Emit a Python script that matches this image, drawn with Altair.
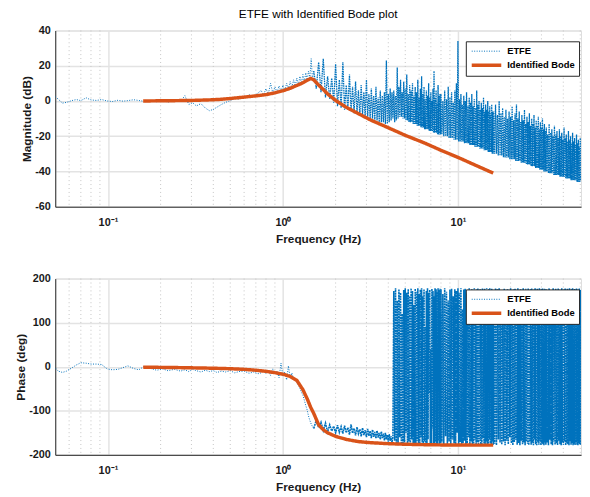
import altair as alt
import pandas as pd

# ---------------- data ----------------
SERIES = ["ETFE", "Identified Bode"]
COLORS = ["#0072BD", "#D95319"]

# ETFE, low-frequency part (smooth)
fA = [0.050, 0.052, 0.055, 0.058, 0.062, 0.066, 0.070, 0.075, 0.080, 0.086,
      0.092, 0.099, 0.106, 0.114, 0.122, 0.130, 0.140, 0.150, 0.160, 0.175,
      0.190, 0.205, 0.220, 0.240, 0.260, 0.275, 0.290, 0.305, 0.320, 0.340,
      0.360, 0.380, 0.400, 0.420, 0.445, 0.470, 0.500, 0.530, 0.560, 0.600,
      0.640, 0.680, 0.720]
magA = [2.5, 1.0, -1.2, -0.8, 0.2, 0.8, 0.2, 1.8, 0.6, 0.3,
        0.8, 0.0, -0.3, 0.4, -0.1, 0.2, 0.7, 0.3, -0.2, 0.2,
        -0.4, 0.3, -0.6, 0.2, -0.3, 3.0, -2.0, -1.0, -2.8, -1.5,
        -4.0, -5.5, -4.8, -3.5, -2.0, -0.8, 0.2, 1.5, 1.0, 2.2,
        3.5, 2.8, 4.5]
phA = [-3, -10, -13, -10, -3, 4, 9, 8, 6, 6,
       5, -5, -7, -6, -2, 2, -4, -7, 0, -4,
       -8, -5, -9, -6, -10, -7, -11, -6, -9, -12,
       -8, -11, -9, -13, -10, -12, -9, -14, -11, -10,
       -15, -12, -16]

# ETFE around the resonance
fB = [0.750, 0.775, 0.800, 0.825, 0.850, 0.875, 0.900, 0.925, 0.950, 0.975,
      1.000, 1.025, 1.050, 1.075, 1.100, 1.125, 1.150, 1.175, 1.200, 1.225,
      1.250, 1.275, 1.300, 1.325, 1.350, 1.375, 1.400, 1.425, 1.450, 1.475]
magB = [6, 3.5, 7, 4, 10, 4.5, 8, 5, 8.5, 5.5,
        9, 6, 10, 7, 11, 7.5, 12, 8.5, 13, 9,
        14, 10, 15, 11, 16, 12, 17, 13, 24, 12]
phB = [-14, -8, -16, -9, -20, -5, -18, -10, -25, 8,
       -22, -12, -30, 2, -26, -14, -28, -30, -36, -42,
       -48, -58, -64, -76, -88, -98, -112, -122, -130, -136]

# ETFE between the resonance and 4.3 Hz
fC = [1.50, 1.55, 1.60, 1.65, 1.70, 1.75, 1.80, 1.85, 1.90, 1.95,
      2.00, 2.05, 2.10, 2.15, 2.20, 2.25, 2.30, 2.35, 2.40, 2.45,
      2.50, 2.55, 2.60, 2.65, 2.70, 2.75, 2.80, 2.85, 2.90, 2.95,
      3.00, 3.05, 3.10, 3.15, 3.20, 3.25, 3.30, 3.35, 3.40, 3.45,
      3.50, 3.55, 3.60, 3.65, 3.70, 3.75, 3.80, 3.85, 3.90, 3.95,
      4.00, 4.05, 4.10, 4.15, 4.20, 4.25]
magC = [17, 7, 22, 5, 24, 2, 14, 1, 13, -1,
        21, -3, 12, -4, 22, -5, 9, -5, 15, -6,
        8, -7, 11, -7, 6, -8, 9, -8, 5, -9,
        12, -9, 4, -10, 7, -10, 3, -11, 8, -11,
        2, -12, 6, -12, 3, -12, 5, -13, 23, -13,
        4, -12, 7, -11, 5, -10]
phC = [-140, -122, -138, -126, -145, -128, -148, -132, -146, -135,
       -150, -133, -149, -136, -152, -134, -150, -138, -154, -131,
       -151, -140, -156, -137, -152, -142, -158, -139, -155, -144,
       -160, -141, -157, -146, -162, -143, -159, -148, -163, -145,
       -161, -150, -165, -147, -162, -152, -167, -150, -165, -155,
       -170, -153, -168, -158, -172, -160]

# ETFE, noisy high-frequency part
fD1 = [4.30, 4.35, 4.40, 4.45, 4.50, 4.55, 4.60, 4.65, 4.70, 4.75,
       4.80, 4.85, 4.90, 4.95, 5.00, 5.05, 5.10, 5.15, 5.20, 5.25,
       5.30, 5.35, 5.40, 5.45, 5.50, 5.55, 5.60, 5.65, 5.70, 5.75,
       5.80, 5.85, 5.90, 5.95, 6.00, 6.05, 6.10, 6.15, 6.20, 6.25,
       6.30, 6.35, 6.40, 6.45, 6.50, 6.55, 6.60, 6.65, 6.70, 6.75,
       6.80, 6.85, 6.90, 6.95, 7.00, 7.05, 7.10, 7.15, 7.20, 7.25,
       7.30, 7.35, 7.40, 7.45, 7.50, 7.55, 7.60, 7.65, 7.70, 7.75,
       7.80, 7.85, 7.90, 7.95]
magD1 = [6, -12, 3, -11, 19, -10, 8, -9, 12, -9,
         5, -10, 11, -10, 7, -11, 15, -11, 4, -12,
         9, -12, 6, -12, 10, -13, 3, -13, 8, -13,
         5, -14, 12, -14, 2, -14, 7, -15, 14, -15,
         4, -15, 8, -16, 1, -16, 6, -16, 3, -16,
         10, -17, 2, -17, 5, -17, 0, -17, 7, -18,
         17, -18, 2, -18, 6, -18, -1, -19, 9, -19,
         3, -19, 4, -19]
phD1 = [172, -168, 178, -175, 150, -178, 176, -160, 168, -176,
        120, -178, 174, -172, 178, -150, 168, -177, 176, -170,
        160, -178, 178, -165, 172, -176, 140, -174, 177, -178,
        170, -168, 178, -175, 165, -178, 175, -160, 178, -172,
        160, -177, 176, -170, 90, -176, 172, -178, 178, -165,
        168, -60, 175, -176, 40, -178, 177, -140, 172, -175,
        160, -178, 178, -170, 176, -176, 170, -178, 178, -168,
        174, -177, 177, -174]

fD2 = [8.0, 8.1, 8.2, 8.3, 8.4, 8.5, 8.6, 8.7, 8.8, 8.9,
       9.0, 9.1, 9.2, 9.3, 9.4, 9.5, 9.6, 9.7, 9.8, 9.9,
       10.0, 10.1, 10.2, 10.3, 10.4, 10.5, 10.6, 10.7, 10.8, 10.9,
       11.0, 11.1, 11.2, 11.3, 11.4, 11.5, 11.6, 11.7, 11.8, 11.9,
       12.0, 12.1, 12.2, 12.3, 12.4, 12.5, 12.6, 12.7, 12.8, 12.9,
       13.0, 13.1, 13.2, 13.3, 13.4, 13.5, 13.6, 13.7, 13.8, 13.9,
       14.0, 14.1, 14.2, 14.3, 14.4, 14.5, 14.6, 14.7, 14.8, 14.9,
       15.0, 15.1, 15.2, 15.3, 15.4, 15.5, 15.6, 15.7, 15.8, 15.9]
magD2 = [4, -19, 0, -20, 6, -20, 1, -20, 8, -21,
         2, -21, 5, -21, -1, -22, 6, -22, 10, -22,
         34, -23, 1, -23, 4, -23, -2, -23, 3, -24,
         0, -24, 5, -24, -3, -24, 2, -25, -1, -25,
         4, -25, -3, -25, 1, -26, -4, -26, 6, -26,
         -2, -26, 0, -27, -5, -27, -1, -27, -4, -27,
         2, -28, -6, -28, -2, -28, -5, -28, 0, -29,
         -6, -29, -3, -29, -7, -29, -2, -30, -6, -30]
phD2 = [176, -172, 165, -176, 178, -158, 170, -178, 150, -170,
        175, -177, 177, -165, 160, -174, 176, -178, 172, -150,
        178, -178, 168, -171, 178, -176, 130, -173, 175, -168,
        177, -178, 166, -174, 172, -160, 178, -176, 170, -170,
        176, -178, 162, -175, 178, -166, 171, -177, 175, -172,
        178, -178, 160, -169, 176, -176, 170, -178, 178, -162,
        168, -175, 177, -178, 172, -170, 178, -176, 150, -178,
        176, -165, 178, -174, 169, -178, 177, -170, 174, -177]

fD3 = [16.0, 16.2, 16.4, 16.6, 16.8, 17.0, 17.2, 17.4, 17.6, 17.8,
       18.0, 18.2, 18.4, 18.6, 18.8, 19.0, 19.2, 19.4, 19.6, 19.8,
       20.0, 20.2, 20.4, 20.6, 20.8, 21.0, 21.2, 21.4, 21.6, 21.8,
       22.0, 22.2, 22.4, 22.6, 22.8, 23.0, 23.2, 23.4, 23.6, 23.8,
       24.0, 24.2, 24.4, 24.6, 24.8, 25.0, 25.2, 25.4, 25.6, 25.8,
       26.0, 26.2, 26.4, 26.6, 26.8, 27.0, 27.2, 27.4, 27.6, 27.8,
       28.0, 28.2, 28.4, 28.6, 28.8, 29.0, 29.2, 29.4, 29.6, 29.8,
       30.0, 30.2, 30.4, 30.6, 30.8, 31.0, 31.2, 31.4, 31.6, 31.8]
magD3 = [-6, -30, -2, -30, -8, -31, 0, -31, -7, -31,
         -4, -32, -9, -32, -5, -32, -10, -32, -6, -33,
         -9, -33, -3, -33, -11, -33, -7, -34, -2, -34,
         -10, -34, -6, -34, -12, -35, -8, -35, -11, -35,
         -5, -35, -13, -36, -9, -36, -12, -36, -7, -36,
         -14, -37, -10, -37, -13, -37, -8, -37, -15, -38,
         -11, -38, -14, -38, -9, -38, -16, -39, -12, -39,
         -15, -39, -10, -39, -16, -40, -13, -40, -17, -40]
phD3 = [170, -175, 178, -178, 176, -165, 178, -172, 160, -177,
        174, -170, 177, -178, 150, -168, 176, -176, 172, -160,
        178, -174, 168, -178, 175, -171, 177, -166, 172, -177,
        178, -173, 165, -178, 176, -168, 174, -176, 178, -172,
        170, -178, 177, -170, 173, -175, 178, -178, 166, -169,
        176, -177, 178, -174, 171, -178, 175, -165, 178, -176,
        169, -178, 177, -171, 174, -177, 178, -168, 172, -178,
        176, -174, 178, -176, 170, -178, 177, -172, 175, -177]

fD4 = [32.0, 32.3, 32.6, 32.9, 33.2, 33.5, 33.8, 34.1, 34.4, 34.7,
       35.0, 35.3, 35.6, 35.9, 36.2, 36.5, 36.8, 37.1, 37.4, 37.7,
       38.0, 38.3, 38.6, 38.9, 39.2, 39.5, 39.8, 40.1, 40.4, 40.7,
       41.0, 41.3, 41.6, 41.9, 42.2, 42.5, 42.8, 43.1, 43.4, 43.7,
       44.0, 44.3, 44.6, 44.9, 45.2, 45.5, 45.8, 46.1, 46.4, 46.7,
       47.0, 47.3, 47.6, 47.9, 48.2, 48.5, 48.8, 49.1, 49.4, 49.7,
       50.0, 50.3]
magD4 = [-15, -40, -19, -41, -13, -41, -18, -41, -16, -41,
         -20, -42, -14, -42, -19, -42, -17, -42, -21, -42,
         -16, -43, -20, -43, -18, -43, -22, -43, -15, -43,
         -21, -44, -19, -44, -23, -44, -17, -44, -22, -44,
         -20, -45, -24, -45, -18, -45, -23, -45, -21, -45,
         -25, -45, -19, -46, -24, -46, -22, -46, -26, -46,
         -21, -45]
phD4 = [176, -172, 170, -178, 178, -166, 174, -176, 166, -178,
        178, -170, 172, -177, 177, -174, 168, -178, 178, -168,
        175, -176, 170, -178, 178, -172, 173, -177, 176, -170,
        178, -178, 169, -174, 177, -176, 172, -178, 178, -169,
        174, -177, 176, -173, 178, -178, 170, -175, 177, -178,
        173, -171, 178, -177, 175, -178, 171, -174, 178, -176,
        174, -178]

# Identified Bode model
bode_f = [0.159, 0.2, 0.25, 0.3, 0.35, 0.4, 0.45, 0.5, 0.6, 0.7,
          0.8, 0.9, 1.0, 1.1, 1.2, 1.3, 1.38, 1.44, 1.5, 1.6,
          1.7, 1.8, 2.0, 2.3, 2.7, 3.2, 3.9, 5.0, 6.5, 8.0,
          10.0, 12.5, 15.9]
bode_mag = [0.0, 0.1, 0.2, 0.3, 0.5, 0.7, 1.0, 1.4, 2.2, 2.9,
            3.6, 4.6, 5.8, 7.2, 8.8, 10.3, 11.8, 12.8, 12.0, 9.0,
            6.5, 4.0, 0.3, -3.6, -7.2, -11.0, -14.7, -19.5, -24.0, -28.0,
            -32.0, -36.3, -40.9]
bode_phase = [-1, -1.5, -2, -2.5, -3, -3.5, -4, -4.5, -6, -8,
              -10.5, -13.5, -17, -22, -31, -52, -74, -92, -106, -132,
              -143, -150, -158, -165, -170, -172.5, -174.5, -176, -177, -177.5,
              -177.5, -178, -178]

minor_f = [0.06, 0.07, 0.08, 0.09, 0.2, 0.3, 0.4, 0.5, 0.6, 0.7, 0.8, 0.9,
           2, 3, 4, 5, 6, 7, 8, 9, 20, 30, 40, 50]
x_ticks = [0.1, 1, 10]
mag_ticks = [40, 20, 0, -20, -40, -60]
phase_ticks = [200, 100, 0, -100, -200]

# ---------------- tables ----------------
f_low = fA + fB + fC[:1]
etfe_low = pd.DataFrame({"f": f_low, "mag": magA + magB + magC[:1],
                         "phase": phA + phB + phC[:1], "series": "ETFE",
                         "i": list(range(len(f_low)))})
f_high = fC + fD1 + fD2 + fD3 + fD4
etfe_high = pd.DataFrame({"f": f_high, "mag": magC + magD1 + magD2 + magD3 + magD4,
                          "phase": phC + phD1 + phD2 + phD3 + phD4, "series": "ETFE",
                          "i": list(range(len(f_high)))})
bode = pd.DataFrame({"f": bode_f, "mag": bode_mag, "phase": bode_phase,
                     "series": "Identified Bode", "i": list(range(len(bode_f)))})
minor = pd.DataFrame({"f": minor_f})

FONT = "Liberation Sans"
AX = "#262626"
XDOM = [0.05, 50.5]


def panel(field, ydomain, yticks, ytitle, dense_width, dense_dash):
    xs = alt.Scale(type="log", domain=XDOM, nice=False)
    ys = alt.Scale(domain=ydomain, nice=False, zero=False)
    xaxis = alt.Axis(title="Frequency (Hz)", values=x_ticks,
                     labelExpr="datum.value < 0.5 ? '10\u207b\u00b9' : (datum.value < 5 ? '10\u2070' : '10\u00b9')",
                     grid=True, gridColor="#e3e3e3", gridWidth=1.5, ticks=False,
                     domainColor=AX, labelPadding=10, titlePadding=6,
                     labelFont=FONT, labelFontSize=11, labelFontWeight="bold", labelColor="#1a1a1a",
                     titleFont=FONT, titleFontSize=12, titleFontWeight="bold", titleColor="#1a1a1a")
    yaxis = alt.Axis(title=ytitle, values=yticks, labelExpr="datum.value + ''",
                     grid=True, gridColor="#e3e3e3", gridWidth=1.5, ticks=False,
                     domainColor=AX, labelPadding=5, titlePadding=1,
                     labelFont=FONT, labelFontSize=11, labelFontWeight="bold", labelColor="#1a1a1a",
                     titleFont=FONT, titleFontSize=12, titleFontWeight="bold", titleColor="#1a1a1a")
    legend = alt.Legend(title=None, orient="none", legendX=417, legendY=11,
                        fillColor="white", strokeColor=AX, padding=4,
                        symbolType="stroke", symbolSize=900, clipHeight=12, rowPadding=2.3,
                        labelFont=FONT, labelFontSize=9.5, labelFontWeight="bold",
                        labelColor="#000000", labelOffset=4)
    color = alt.Color("series:N", scale=alt.Scale(domain=SERIES, range=COLORS), legend=legend)
    dash = alt.StrokeDash("series:N", scale=alt.Scale(domain=SERIES, range=[[1, 1.5], [1, 0]]), legend=legend)
    width = alt.StrokeWidth("series:N", scale=alt.Scale(type="point", domain=SERIES, range=[1, 3.5], padding=0),
                            legend=legend)
    x = alt.X("f:Q", scale=xs, axis=xaxis)
    y = alt.Y(f"{field}:Q", scale=ys, axis=yaxis)

    grid = alt.Chart(minor).mark_rule(color="#c4c4c4", strokeDash=[1, 3], strokeWidth=1).encode(x=x)
    low = alt.Chart(etfe_low).mark_line(clip=True).encode(
        x=x, y=y, order="i:Q", color=color, strokeDash=dash, strokeWidth=width)
    high = alt.Chart(etfe_high).mark_line(clip=True, strokeWidth=dense_width, strokeDash=dense_dash).encode(
        x=x, y=y, order="i:Q", color=color)
    model = alt.Chart(bode).mark_line(clip=True).encode(
        x=x, y=y, order="i:Q", color=color, strokeDash=dash, strokeWidth=width)
    return alt.layer(grid, low, high, model).properties(width=534, height=179)


top = panel("mag", [-60, 40], mag_ticks, "Magnitude (dB)", 1.3, [1.6, 0.8]).properties(
    title=alt.TitleParams("ETFE with Identified Bode plot", font=FONT, fontSize=12,
                          fontWeight="normal", color="#000000", offset=4, anchor="middle"))
bottom = panel("phase", [-200, 200], phase_ticks, "Phase (deg)", 1.6, [2, 0.7])

chart = alt.vconcat(top, bottom, spacing=73, bounds="flush").resolve_scale(
    color="independent", strokeDash="independent", strokeWidth="independent"
).resolve_legend(color="independent", strokeDash="independent", strokeWidth="independent").properties(
    padding={"left": 6, "top": -5, "right": 0, "bottom": 0}
).configure_view(stroke=AX, strokeWidth=1).configure(background="white")

chart.save("out.html", embed_options={"renderer": "svg", "actions": False})
